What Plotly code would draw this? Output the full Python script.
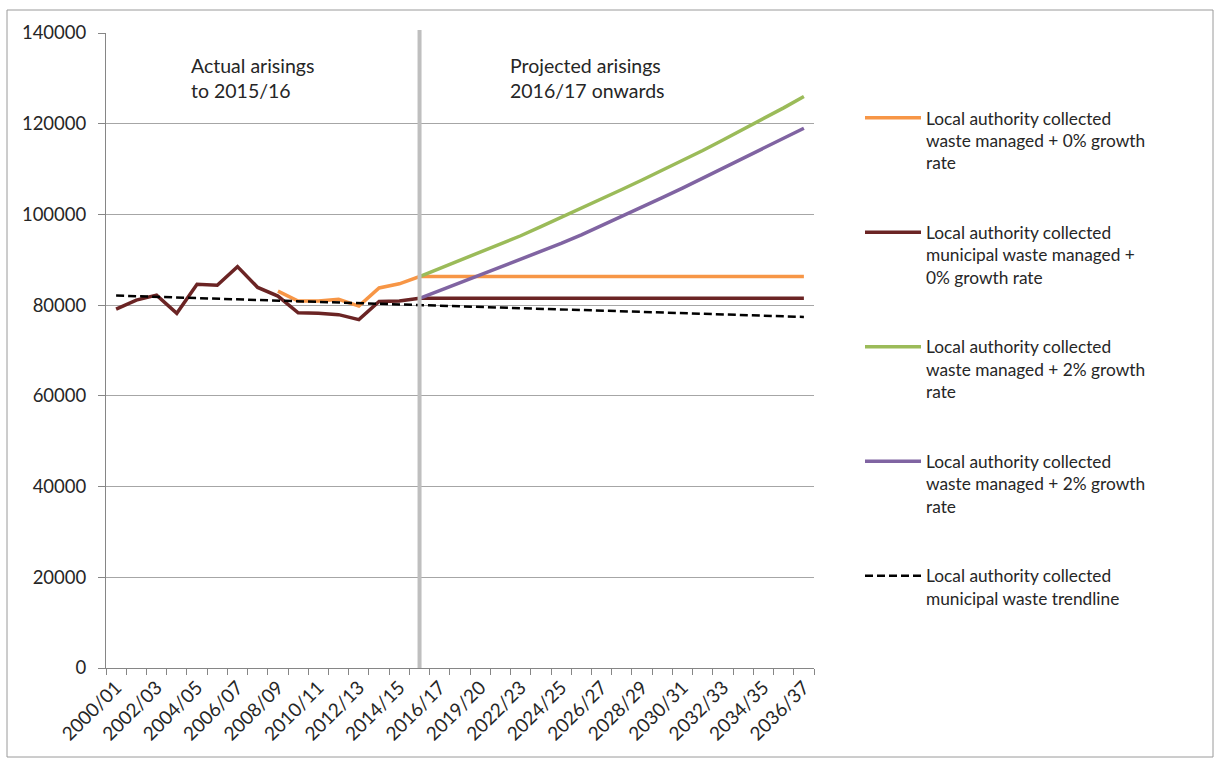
import plotly.graph_objects as go

# ---------------- data ----------------
categories = [
    "2000/01", "2001/02", "2002/03", "2003/04", "2004/05", "2005/06", "2006/07",
    "2007/08", "2008/09", "2009/10", "2010/11", "2011/12", "2012/13", "2013/14",
    "2014/15", "2015/16", "2016/17", "2017/18", "2019/20", "2020/21", "2022/23",
    "2023/24", "2024/25", "2025/26", "2026/27", "2027/28", "2028/29", "2029/30",
    "2030/31", "2031/32", "2032/33", "2033/34", "2034/35", "2035/36", "2036/37",
]
shown_labels = [
    "2000/01", "2002/03", "2004/05", "2006/07", "2008/09", "2010/11", "2012/13",
    "2014/15", "2016/17", "2019/20", "2022/23", "2024/25", "2026/27", "2028/29",
    "2030/31", "2032/33", "2034/35", "2036/37",
]

lacw_0 = [
    None, None, None, None, None, None, None, None,
    83100, 80900, 80900, 81300, 79800, 83800, 84700, 86300,
    86300, 86300, 86300, 86300, 86300, 86300, 86300, 86300, 86300, 86300,
    86300, 86300, 86300, 86300, 86300, 86300, 86300, 86300, 86300,
]
lacmw_0 = [
    79100, 81100, 82200, 78200, 84600, 84400, 88500, 83900, 82000, 78300,
    78200, 77900, 76800, 80800, 80900, 81500,
    81500, 81500, 81500, 81500, 81500, 81500, 81500, 81500, 81500, 81500,
    81500, 81500, 81500, 81500, 81500, 81500, 81500, 81500, 81500,
]
lacw_2 = [
    None, None, None, None, None, None, None, None, None, None, None, None,
    None, None, None,
    86300, 88100, 89900, 91600, 93400, 95300, 97300, 99300, 101300, 103400,
    105500, 107600, 109700, 111900, 114100, 116400, 118700, 121100, 123500, 126000,
]
lacmw_2 = [
    None, None, None, None, None, None, None, None, None, None, None, None,
    None, None, None,
    81500, 83200, 84900, 86600, 88300, 90000, 91800, 93600, 95500, 97500,
    99500, 101600, 103700, 105800, 108000, 110200, 112400, 114600, 116800, 119000,
]
trend_x = ["2000/01", "2036/37"]
trend_y = [82100, 77400]

series_names = [
    "Local authority collected<br>waste managed + 0% growth<br>rate",
    "Local authority collected<br>municipal waste managed +<br>0% growth rate",
    "Local authority collected<br>waste managed + 2% growth<br>rate",
    "Local authority collected<br>waste managed + 2% growth<br>rate",
    "Local authority collected<br>municipal waste trendline",
]
colors = ["#F79646", "#6B2424", "#9BBB59", "#8064A2", "#000000"]

# ---------------- layout constants ----------------
W, H = 1217, 765
PL, PR, PT, PB = 106, 814, 33, 668
FONT = "Lato"
TXT = "#262626"


def px_x(p):
    return (p - PL) / (PR - PL)


def px_y(p):
    return (PB - p) / (PB - PT)


fig = go.Figure()
series = [lacw_0, lacmw_0, lacw_2, lacmw_2]
for i, ys in enumerate(series):
    fig.add_trace(go.Scatter(
        x=categories, y=ys, mode="lines", name=series_names[i],
        line=dict(color=colors[i], width=3.5), legendgroup=f"g{i}",
        connectgaps=False,
    ))
fig.add_trace(go.Scatter(
    x=trend_x, y=trend_y, mode="lines", name=series_names[4],
    line=dict(color=colors[4], width=2.5, dash="8px,4px"), legendgroup="g4",
))

ticktext = [c if c in shown_labels else "" for c in categories]

fig.update_layout(
    width=W, height=H,
    margin=dict(l=PL, r=W - PR, t=PT, b=H - PB, pad=0),
    paper_bgcolor="white", plot_bgcolor="white",
    font=dict(family=FONT, size=17, color=TXT),
    xaxis=dict(
        type="category", categoryorder="array", categoryarray=categories,
        range=[-0.5, len(categories) - 0.5],
        tickmode="array", tickvals=categories, ticktext=ticktext,
        tickson="boundaries", ticks="outside", ticklen=6, tickcolor="#868686",
        tickangle=-45, tickfont=dict(family=FONT, size=19, color=TXT),
        showline=True, linecolor="#868686", linewidth=1,
        showgrid=False, zeroline=False, fixedrange=True,
    ),
    yaxis=dict(
        range=[0, 140000], dtick=20000, tickformat="d",
        ticks="outside", ticklen=7, tickcolor="#868686",
        ticklabelstandoff=8,
        tickfont=dict(family=FONT, size=18.5, color=TXT),
        showline=True, linecolor="#868686", linewidth=1,
        showgrid=True, gridcolor="#A6A6A6", gridwidth=1,
        zeroline=False, fixedrange=True,
    ),
    legend=dict(
        x=px_x(860), xanchor="left", y=px_y(100), yanchor="top",
        font=dict(family=FONT, size=17.3, color=TXT),
        bgcolor="rgba(0,0,0,0)", valign="top", tracegroupgap=44,
        itemwidth=56,
    ),
    showlegend=True,
)

# vertical separator at 2015/16
fig.add_shape(type="line", xref="x", yref="paper", x0=15, x1=15,
              y0=0, y1=px_y(30), line=dict(color="#BFBFBF", width=4),
              layer="above")
# chart border
fig.add_shape(type="rect", xref="paper", yref="paper",
              x0=px_x(7), x1=px_x(1213), y0=px_y(757), y1=px_y(10),
              line=dict(color="#9A9A9A", width=1), layer="below")

fig.add_annotation(xref="paper", yref="paper", x=px_x(189), y=px_y(52),
                   xanchor="left", yanchor="top", align="left", showarrow=False,
                   text="Actual arisings<br>to 2015/16",
                   font=dict(family=FONT, size=19.5, color=TXT))
fig.add_annotation(xref="paper", yref="paper", x=px_x(508), y=px_y(52),
                   xanchor="left", yanchor="top", align="left", showarrow=False,
                   text="Projected arisings<br>2016/17 onwards",
                   font=dict(family=FONT, size=19.5, color=TXT))

fig.write_html("out.html")
